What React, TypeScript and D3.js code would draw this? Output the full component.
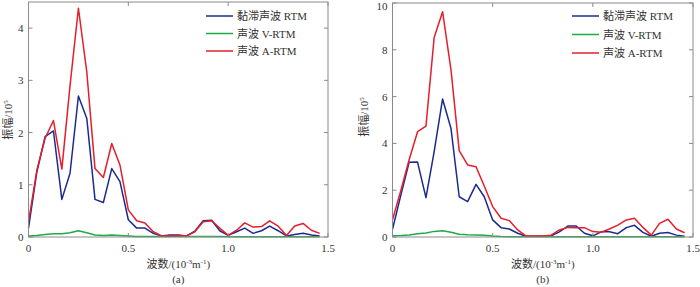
import React from "react";
import * as d3 from "d3";

const wavenumber = [0, 0.042, 0.083, 0.125, 0.167, 0.208, 0.25, 0.292, 0.333, 0.375, 0.417, 0.458, 0.5, 0.542, 0.583, 0.625, 0.667, 0.708, 0.75, 0.792, 0.833, 0.875, 0.917, 0.958, 1.0, 1.042, 1.083, 1.125, 1.167, 1.208, 1.25, 1.292, 1.333, 1.375, 1.417, 1.458];

// panel (a)
const viscoA = [0.17, 1.25, 1.92, 2.03, 0.72, 1.22, 2.7, 2.27, 0.72, 0.66, 1.31, 1.06, 0.33, 0.17, 0.17, 0.07, 0.02, 0.04, 0.04, 0.02, 0.11, 0.31, 0.32, 0.12, 0.03, 0.1, 0.17, 0.07, 0.12, 0.21, 0.12, 0.02, 0.05, 0.07, 0.04, 0.02];
const vrtmA = [0.02, 0.03, 0.05, 0.06, 0.06, 0.08, 0.12, 0.08, 0.04, 0.03, 0.04, 0.03, 0.02, 0.01, 0.01, 0.01, 0.01, 0.01, 0.01, 0.01, 0.01, 0.01, 0.01, 0.01, 0.005, 0.005, 0.005, 0.005, 0.005, 0.005, 0.005, 0.005, 0.005, 0.005, 0.005, 0.005];
const artmA = [0.29, 1.28, 1.89, 2.23, 1.3, 2.9, 4.38, 3.16, 1.31, 1.14, 1.79, 1.38, 0.52, 0.31, 0.27, 0.1, 0.02, 0.02, 0.03, 0.02, 0.1, 0.29, 0.31, 0.17, 0.03, 0.13, 0.27, 0.19, 0.2, 0.31, 0.21, 0.03, 0.21, 0.26, 0.13, 0.07];

// panel (b)
const viscoB = [0.33, 1.8, 3.19, 3.2, 1.68, 3.65, 5.9, 4.64, 1.72, 1.51, 2.25, 1.72, 0.73, 0.4, 0.34, 0.16, 0.03, 0.03, 0.03, 0.05, 0.22, 0.47, 0.47, 0.16, 0.05, 0.22, 0.22, 0.14, 0.4, 0.5, 0.2, 0.03, 0.16, 0.19, 0.08, 0.03];
const vrtmB = [0.05, 0.06, 0.09, 0.14, 0.17, 0.24, 0.27, 0.2, 0.12, 0.1, 0.09, 0.07, 0.04, 0.02, 0.01, 0.01, 0.01, 0.01, 0.01, 0.01, 0.01, 0.01, 0.01, 0.01, 0.01, 0.01, 0.01, 0.01, 0.01, 0.01, 0.01, 0.01, 0.01, 0.01, 0.01, 0.01];
const artmB = [0.73, 2.0, 3.3, 4.5, 4.74, 8.53, 9.63, 7.14, 3.69, 3.08, 3.0, 2.18, 1.3, 0.8, 0.7, 0.3, 0.04, 0.04, 0.04, 0.08, 0.3, 0.41, 0.4, 0.4, 0.23, 0.2, 0.34, 0.51, 0.73, 0.8, 0.41, 0.08, 0.58, 0.76, 0.34, 0.18];

const seriesNames = ["黏滞声波 RTM", "声波 V-RTM", "声波 A-RTM"];
const seriesColors = ["#1c2a8e", "#1faa48", "#e41e2b"];
const xTicks = [0, 0.5, 1.0, 1.5];
const xTickLabels = ["0", "0.5", "1.0", "1.5"];
const yTicksA = [0, 1, 2, 3, 4];
const yTicksB = [0, 2, 4, 6, 8, 10];

const FONT = "'Liberation Serif', 'Times New Roman', 'Noto Sans CJK SC', serif";
const TEXT = "#333";
const FRAME = "#8a8a8a";

type PanelProps = {
  x0: number; x1: number; yTop: number; yBottom: number; yMax: number;
  yTicks: number[]; series: number[][]; legendX: number; legendY: number[];
  yLabelX: number; yLabelY: number; tag: string;
};

function Panel(p: PanelProps) {
  const x = d3.scaleLinear().domain([0, 1.5]).range([p.x0, p.x1]);
  const y = d3.scaleLinear().domain([0, p.yMax]).range([p.yBottom, p.yTop]);
  const line = d3.line<number>().x((_, i) => x(wavenumber[i])).y((d) => y(d));
  const tl = 4;
  const cx = (p.x0 + p.x1) / 2;
  return (
    <g fontFamily={FONT} fill={TEXT}>
      {p.series.map((s, k) => (
        <path key={k} d={line(s) || ""} fill="none" stroke={seriesColors[k]} strokeWidth={1.5} strokeLinejoin="round" />
      ))}
      <rect x={p.x0} y={p.yTop} width={p.x1 - p.x0} height={p.yBottom - p.yTop} fill="none" stroke={FRAME} strokeWidth={1} />
      {xTicks.map((t, i) => (
        <g key={"xt" + i}>
          <line x1={x(t)} x2={x(t)} y1={p.yBottom} y2={p.yBottom - tl} stroke={FRAME} />
          <line x1={x(t)} x2={x(t)} y1={p.yTop} y2={p.yTop + tl} stroke={FRAME} />
          <text x={x(t)} y={p.yBottom + 15} fontSize={11} textAnchor="middle">{xTickLabels[i]}</text>
        </g>
      ))}
      {p.yTicks.map((t, i) => (
        <g key={"yt" + i}>
          <line x1={p.x0} x2={p.x0 + tl} y1={y(t)} y2={y(t)} stroke={FRAME} />
          <line x1={p.x1} x2={p.x1 - tl} y1={y(t)} y2={y(t)} stroke={FRAME} />
          <text x={p.x0 - 5} y={Math.max(y(t) + 4, 10)} fontSize={11} textAnchor="end">{t}</text>
        </g>
      ))}
      {seriesNames.map((n, k) => (
        <g key={"lg" + k}>
          <line x1={p.legendX} x2={p.legendX + 27} y1={p.legendY[k]} y2={p.legendY[k]} stroke={seriesColors[k]} strokeWidth={1.5} />
          <text x={p.legendX + 31} y={p.legendY[k] + 4} fontSize={11}>{n}</text>
        </g>
      ))}
      <text transform={`translate(${p.yLabelX},${p.yLabelY}) rotate(-90)`} fontSize={11} textAnchor="middle">
        振幅/10<tspan fontSize={7} dy={-4}>5</tspan>
      </text>
      <text x={cx} y={p.yBottom + 31} fontSize={11} textAnchor="middle">
        波数/(10<tspan fontSize={7} dy={-4}>-3</tspan><tspan dy={4}>m</tspan><tspan fontSize={7} dy={-4}>-1</tspan><tspan dy={4}>)</tspan>
      </text>
      <text x={cx} y={p.yBottom + 46} fontSize={11} textAnchor="middle">{p.tag}</text>
    </g>
  );
}

export default function App() {
  return (
    <svg width={700} height={287} style={{ position: "absolute", left: 0, top: 0, background: "#fff" }}>
      <rect width={700} height={287} fill="#fff" />
      <Panel x0={28.5} x1={328} yTop={2} yBottom={237} yMax={4.5} yTicks={yTicksA}
        series={[viscoA, vrtmA, artmA]} legendX={206} legendY={[16, 33.5, 51]}
        yLabelX={12} yLabelY={120} tag="(a)" />
      <Panel x0={392.5} x1={693} yTop={3} yBottom={237} yMax={10} yTicks={yTicksB}
        series={[viscoB, vrtmB, artmB]} legendX={572} legendY={[16, 34.5, 53]}
        yLabelX={368} yLabelY={117} tag="(b)" />
    </svg>
  );
}
